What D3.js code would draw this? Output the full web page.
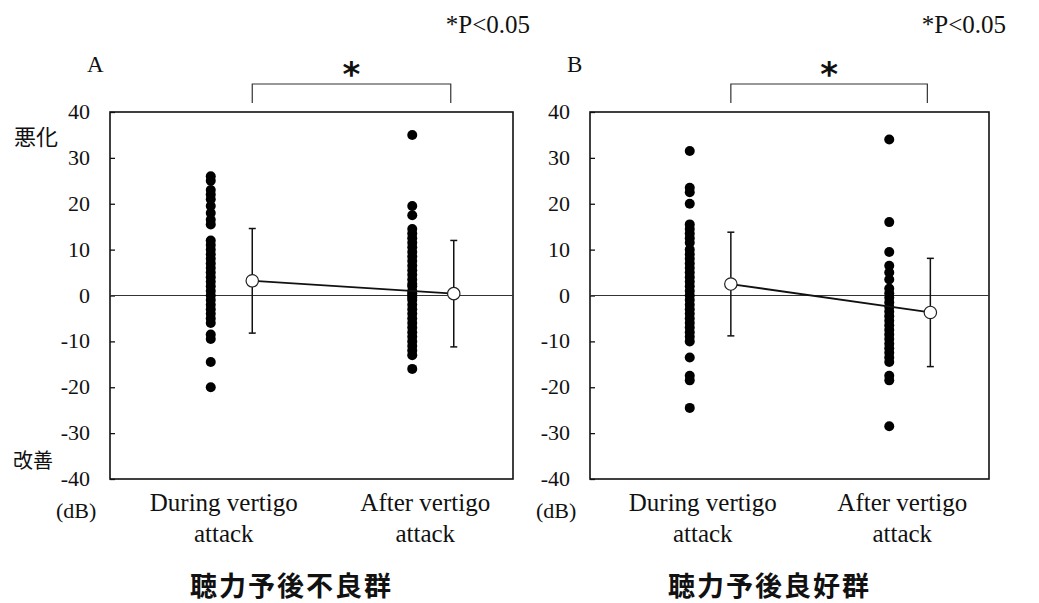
<!DOCTYPE html>
<html>
<head>
<meta charset="utf-8">
<script src="https://cdn.jsdelivr.net/npm/d3@7"></script>
<style>
  body { margin: 0; background: #fff; }
  svg text { fill: #111; }
  .serif { font-family: "Liberation Serif", "Times New Roman", "DejaVu Serif", serif; }
  .cjk { font-family: "Noto Sans CJK JP", sans-serif; }
</style>
</head>
<body>
<div id="chart"></div>
<script>
// categories on the x axis
var categories = ["During", "After"]
var catLabels = [["During vertigo", "attack"], ["After vertigo", "attack"]]
var yTicks = [40, 30, 20, 10, 0, -10, -20, -30, -40]

// individual patients (dB change)
var poorDuring = [26, 25, 23, 22, 21, 19.5, 18, 16.5, 15.5, 12, 11, 10, 9, 8, 7, 6, 5, 4, 3, 2, 1, 0, -1, -2, -3, -4, -5, -6, -8.5, -9.5, -14.5, -20]
var poorAfter = [35, 19.5, 17.5, 14.5, 13.5, 12.5, 11.5, 10.5, 9.5, 8.5, 7.5, 6.5, 5.5, 4.5, 3.5, 2.5, 2, 1, 0.5, 0, -0.5, -1, -2, -3, -4, -5, -6, -7, -8, -9, -10, -11, -12, -13, -16]
var goodDuring = [31.5, 23.5, 22.5, 20, 15.5, 14.5, 13.5, 12.5, 11.5, 10, 9, 8, 7, 6, 5, 4, 3, 2, 1, 0, -1, -2, -3, -4, -5, -6, -7, -8, -9, -10, -13.5, -17.5, -18.5, -24.5]
var goodAfter = [34, 16, 9.5, 6.5, 5, 3.5, 1.5, 0.5, -0.5, -1.5, -2.5, -3.5, -4.5, -5.5, -6.5, -7.5, -8.5, -9.5, -10.5, -11.5, -12.5, -13.5, -14.5, -17.5, -18.5, -28.5]

// mean and SD per group
var poorMean = [3.2, 0.4]
var poorSD = [11.4, 11.6]
var goodMean = [2.5, -3.7]
var goodSD = [11.3, 11.8]

var width = 1039
var height = 603

var svg = d3.select("#chart")
  .append("svg")
    .attr("width", width)
    .attr("height", height)

function drawPanel(p) {
  var g = svg.append("g")

  var x = d3.scalePoint()
    .domain(categories)
    .range([p.left, p.right])
    .padding(0.5)
  var y = d3.scaleLinear()
    .domain([-40, 40])
    .range([p.bottom, p.top])
  var off = (p.right - p.left) * 0.103

  // frame
  g.append("rect")
    .attr("x", p.left).attr("y", p.top)
    .attr("width", p.right - p.left).attr("height", p.bottom - p.top)
    .attr("fill", "none").attr("stroke", "#111").attr("stroke-width", 1.6)

  // y axis, ticks pointing inward
  var axis = g.append("g")
    .attr("transform", "translate(" + p.left + ",0)")
    .call(d3.axisRight(y).tickValues(yTicks).tickSize(5).tickFormat(""))
  axis.select(".domain").remove()
  axis.selectAll("line").attr("stroke", "#111").attr("stroke-width", 1.3)

  g.selectAll("tickLabels")
    .data(yTicks)
    .enter()
    .append("text")
      .attr("class", "serif")
      .attr("x", p.left - 20)
      .attr("y", function(d){ return y(d) })
      .attr("dy", "0.32em")
      .attr("text-anchor", "end")
      .style("font-size", "22px")
      .text(function(d){ return d })

  // zero line
  g.append("line")
    .attr("x1", p.left).attr("x2", p.right)
    .attr("y1", y(0)).attr("y2", y(0))
    .attr("stroke", "#333").attr("stroke-width", 1.2)

  // patient dots
  var groups = [p.during, p.after]
  groups.forEach(function(vals, i){
    g.selectAll("dots" + i)
      .data(vals)
      .enter()
      .append("circle")
        .attr("cx", x(categories[i]))
        .attr("cy", function(d){ return y(d) })
        .attr("r", 5)
        .attr("fill", "#000")
  })

  // mean line
  var line = d3.line()
    .x(function(d, i){ return x(categories[i]) + off })
    .y(function(d){ return y(d) })
  g.append("path")
    .attr("d", line(p.mean))
    .attr("fill", "none").attr("stroke", "#111").attr("stroke-width", 1.8)

  // error bars (mean +- SD)
  p.mean.forEach(function(m, i){
    var cx = x(categories[i]) + off
    var lo = y(m - p.sd[i]), hi = y(m + p.sd[i])
    g.append("line").attr("x1", cx).attr("x2", cx).attr("y1", lo).attr("y2", hi)
      .attr("stroke", "#111").attr("stroke-width", 1.5)
    ;[lo, hi].forEach(function(v){
      g.append("line").attr("x1", cx - 3.5).attr("x2", cx + 3.5).attr("y1", v).attr("y2", v)
        .attr("stroke", "#111").attr("stroke-width", 1.5)
    })
  })

  g.selectAll("means")
    .data(p.mean)
    .enter()
    .append("circle")
      .attr("cx", function(d, i){ return x(categories[i]) + off })
      .attr("cy", function(d){ return y(d) })
      .attr("r", 6.2)
      .attr("fill", "#fff").attr("stroke", "#222").attr("stroke-width", 1.2)

  // significance bracket
  var bx1 = x(categories[0]) + off, bx2 = x(categories[1]) + off - 3
  g.append("path")
    .attr("d", "M" + bx1 + "," + (p.top - 9) + "V" + (p.top - 28) + "H" + bx2 + "V" + (p.top - 9))
    .attr("fill", "none").attr("stroke", "#333").attr("stroke-width", 1.2)
  g.append("text")
    .attr("x", (bx1 + bx2) / 2)
    .attr("y", p.top - 26)
    .attr("text-anchor", "middle")
    .style("font-family", "'DejaVu Sans', sans-serif")
    .style("font-size", "34px")
    .style("font-weight", "bold")
    .text("*")

  // category labels
  catLabels.forEach(function(lines, i){
    var t = g.append("text")
      .attr("class", "serif")
      .attr("x", x(categories[i]) + 13)
      .attr("y", p.bottom + 32)
      .attr("text-anchor", "middle")
      .style("font-size", "25px")
    lines.forEach(function(s, k){
      t.append("tspan").attr("x", x(categories[i]) + 13).attr("dy", k ? 31 : 0).text(s)
    })
  })

  // panel letter, unit, p-value note, group title
  g.append("text").attr("class", "serif").attr("x", p.left - 23).attr("y", 72)
    .style("font-size", "23px").text(p.letter)
  g.append("text").attr("class", "serif").attr("x", p.left - 54).attr("y", 518)
    .style("font-size", "22px").text("(dB)")
  g.append("text").attr("class", "serif").attr("x", p.right + 17).attr("y", 33).attr("text-anchor", "end")
    .style("font-size", "25px").text("*P<0.05")
  g.append("text").attr("class", "cjk").attr("x", (p.left + p.right) / 2 - 20).attr("y", 596).attr("text-anchor", "middle")
    .style("font-size", "27px").style("font-weight", "bold")
    .attr("letter-spacing", "2px")
    .text(p.title)
}

drawPanel({ left: 110, right: 513, top: 112, bottom: 479, letter: "A",
  during: poorDuring, after: poorAfter, mean: poorMean, sd: poorSD, title: "聴力予後不良群" })
drawPanel({ left: 590, right: 989, top: 112, bottom: 479, letter: "B",
  during: goodDuring, after: goodAfter, mean: goodMean, sd: goodSD, title: "聴力予後良好群" })

// side notes on panel A
svg.append("text").attr("class", "cjk").attr("x", 14).attr("y", 137).attr("dy", "0.35em")
  .style("font-size", "22px").text("悪化")
svg.append("text").attr("class", "cjk").attr("x", 13).attr("y", 461).attr("dy", "0.35em")
  .style("font-size", "20px").text("改善")
</script>
</body>
</html>
